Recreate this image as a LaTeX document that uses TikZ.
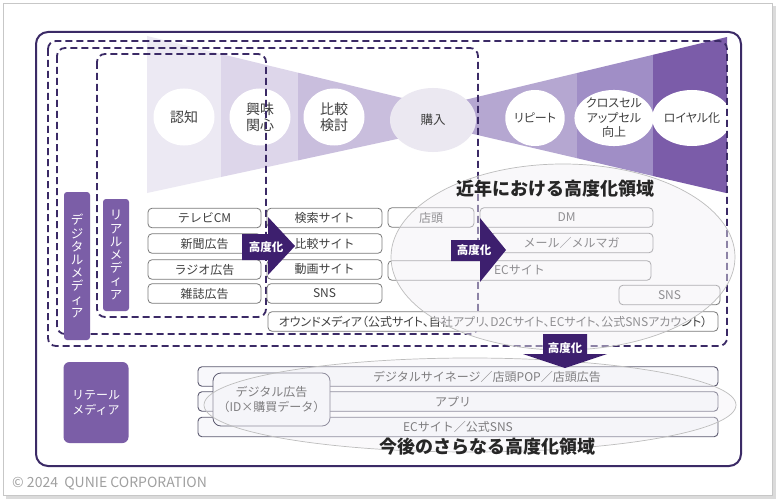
\documentclass[tikz,border=0pt]{standalone}
\usepackage{fontspec}
\setmainfont{Noto Sans CJK JP}
\newfontfamily\paltfont{Noto Sans CJK JP}[RawFeature=+palt]
\usetikzlibrary{shapes.geometric}
\definecolor{dp}{HTML}{3B2A66}
\definecolor{arr}{HTML}{3D1F6E}
\definecolor{lab}{HTML}{7B5EA7}
\definecolor{fa}{HTML}{ECE9F3}
\definecolor{fb}{HTML}{DDD6EA}
\definecolor{fc}{HTML}{C9BEDD}
\definecolor{fd}{HTML}{B5A7D1}
\definecolor{fe}{HTML}{A08EC6}
\definecolor{ff}{HTML}{7B5CA9}
\definecolor{buy}{HTML}{EBE8F1}
\definecolor{bx}{HTML}{7A7A7A}
\definecolor{txt}{HTML}{404040}
\definecolor{rowb}{HTML}{5C5A70}
\definecolor{rowf}{HTML}{F8F8FB}
\definecolor{ovl}{HTML}{F2F0F6}
\definecolor{elg}{HTML}{BDBDBD}
\definecolor{hd}{HTML}{262626}
\definecolor{cgray}{HTML}{A0A0A0}
\begin{document}
\begin{tikzpicture}[x=1pt,y=-1pt,
  circ/.style={ellipse, fill=white, inner sep=0pt, minimum width=61, minimum height=57, align=center, text=txt, font=\fontsize{14}{15.5}\selectfont},
  rcirc/.style={circ, minimum width=59, minimum height=56, font=\paltfont\fontsize{12}{14.5}\selectfont},
  mbox/.style={draw=bx, line width=0.8pt, rounded corners=4pt, fill=white, inner sep=0pt, text=txt, font=\fontsize{12}{14}\selectfont, minimum height=19.5},
  rowbox/.style={draw=rowb, line width=0.9pt, rounded corners=4pt, fill=rowf, inner sep=0pt, minimum height=19.5, minimum width=520},
  rowtxt/.style={text=txt, font=\fontsize{12}{14}\selectfont, inner sep=0pt},
  dashframe/.style={draw=dp, line width=1.8pt, dash pattern=on 7pt off 4pt, rounded corners=8pt},
  vlab/.style={fill=lab, rounded corners=3pt, text=white, inner sep=0pt, align=center, font=\fontsize{12.5}{13.2}\selectfont},
  arrtxt/.style={text=white, font=\bfseries\fontsize{11.5}{13}\selectfont, inner sep=0pt},
  zone/.style={ellipse, draw=elg, line width=0.7pt, fill=ovl, fill opacity=0.45, inner sep=0pt},
  headtxt/.style={text=hd, font=\bfseries\fontsize{18}{20}\selectfont, inner sep=0pt}
]
\useasboundingbox (0,0) rectangle (780,503);
% page
\fill[black!14] (6,6) rectangle (776,499);
\draw[black!22, fill=white] (3,3) rectangle (772,495);
% main frame
\draw[dp, line width=2pt, rounded corners=12pt] (36,32) rectangle (741,466);
% funnel left
\fill[fa] (147,36) -- (221,54) -- (221,177) -- (147,193) -- cycle;
\fill[fb] (221,54) -- (298,72.7) -- (298,160.4) -- (221,177) -- cycle;
\fill[fc] (298,72.7) -- (420,102.3) -- (420,134) -- (298,160.4) -- cycle;
% funnel right
\fill[fd] (450,103.5) -- (577,73) -- (577,158.2) -- (450,128.6) -- cycle;
\fill[fe] (577,73) -- (653,54.8) -- (653,176) -- (577,158.2) -- cycle;
\fill[ff] (653,54.8) -- (727,37) -- (727,193.2) -- (653,176) -- cycle;
% stage circles
\node[circ] (c1) at (184,117) {認知};
\node[circ] (c2) at (260,117) {興味\\関心};
\node[circ] (c3) at (334,117) {比較\\検討};
\node[ellipse, fill=buy, inner sep=0pt, minimum width=86, minimum height=64, text=txt, font=\fontsize{12.5}{14}\selectfont] (c4) at (433,120) {購入};
\node[rcirc] (c5) at (535,118) {リピート};
\node[rcirc] (c6) at (614,118) {クロスセル\\アップセル\\向上};
\node[rcirc] (c7) at (692,118) {ロイヤル化};
% dashed frames
\draw[dashframe] (48,41) rectangle (727,346);
\draw[dashframe] (57,48) rectangle (478,334);
\draw[dashframe] (97,54) rectangle (266,317);
% vertical labels
\node[vlab, minimum width=26, minimum height=148] (dm) at (77,266) {デ\\ジ\\タ\\ル\\メ\\デ\\ィ\\ア};
\node[vlab, minimum width=26, minimum height=112] (rm) at (116,255) {リ\\ア\\ル\\メ\\デ\\ィ\\ア};
% column 1
\node[mbox, minimum width=113] (tv) at (204.5,218) {テレビCM};
\node[mbox, minimum width=113] (np) at (204.5,243.5) {新聞広告};
\node[mbox, minimum width=113] (rd) at (204.5,269.5) {ラジオ広告};
\node[mbox, minimum width=113] (mg) at (204.5,293.5) {雑誌広告};
% column 2
\node[mbox, minimum width=115] (se) at (324.5,218) {検索サイト};
\node[mbox, minimum width=115] (cp) at (324.5,243.5) {比較サイト};
\node[mbox, minimum width=115] (vd) at (324.5,269.5) {動画サイト};
\node[mbox, minimum width=115] (sn) at (324.5,293.5) {SNS};
% column 3
\node[mbox, minimum width=86] (st) at (431,217.5) {店頭};
\node[mbox, minimum width=173] (dmail) at (566.5,217.5) {DM};
\node[mbox, minimum width=163] (ml) at (571.5,243) {メール／メルマガ};
\node[mbox, minimum width=263] (ec) at (519.5,270.5) {ECサイト};
\node[mbox, minimum width=101] (sn2) at (669.5,295) {SNS};
\node[mbox, minimum width=450, font=\paltfont\fontsize{12}{13}\selectfont] (own) at (493,321.5) {オウンドメディア（公式サイト、自社アプリ、D2Cサイト、ECサイト、公式SNSアカウント）};
% arrow 1
\fill[arr] (242,234) -- (268,234) -- (268,217) -- (295,246) -- (268,275) -- (268,260) -- (242,260) -- cycle;
\node[arrtxt] (a1) at (266,247) {高度化};
% zone 1
\node[zone, minimum width=344, minimum height=186] (z1) at (563,257) {};
% arrow 2
\fill[arr] (451,240) -- (480,240) -- (480,218) -- (506,250) -- (480,282) -- (480,261) -- (451,261) -- cycle;
\node[arrtxt] (a2) at (474,250) {高度化};
\node[headtxt] (h1) at (555,189) {近年における高度化領域};
% bottom section
\node[vlab, rounded corners=6pt, minimum width=65, minimum height=81, font=\fontsize{12}{15}\selectfont] (retail) at (96,402.5) {リテール\\メディア};
\node[rowbox] (r1) at (458,376.5) {};
\node[rowbox] (r2) at (458,401.5) {};
\node[rowbox] (r3) at (458,427) {};
\node[rowtxt] (t1) at (487,376.5) {デジタルサイネージ／店頭POP／店頭広告};
\node[rowtxt] (t2) at (453,401.5) {アプリ};
\node[rowtxt] (t3) at (458,427) {ECサイト／公式SNS};
\node[draw=rowb, line width=0.8pt, rounded corners=8pt, fill=rowf, minimum width=117, minimum height=53, inner sep=0pt, align=center, text=txt, font=\fontsize{12}{15}\selectfont] (dad) at (271.5,399.5) {デジタル広告\\（ID×購買データ）};
\node[zone, fill opacity=0.35, minimum width=532, minimum height=94] (z2) at (470,405) {};
% arrow down
\fill[arr] (543,334) -- (587,334) -- (587,354) -- (607,354) -- (565,368) -- (523,354) -- (543,354) -- cycle;
\node[arrtxt] (a3) at (565,348) {高度化};
\node[headtxt] (h2) at (487,447) {今後のさらなる高度化領域};
% copyright
\node[anchor=west, inner sep=0pt, text=cgray, font=\fontsize{14}{16}\selectfont] (copy) at (12,484) {© 2024\ \ QUNIE CORPORATION};
\end{tikzpicture}
\end{document}
